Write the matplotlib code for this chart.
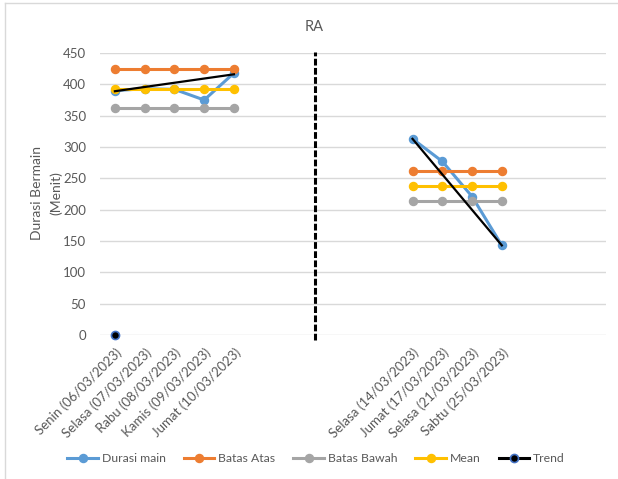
import matplotlib
matplotlib.use("Agg")
import matplotlib.pyplot as plt
from matplotlib.lines import Line2D
import numpy as np

plt.rcParams['font.family'] = ['Lato', 'DejaVu Sans']

# Category slots along the x axis (empty strings are blank slots)
categories = [
    "Senin (06/03/2023)", "Selasa (07/03/2023)", "Rabu (08/03/2023)",
    "Kamis (09/03/2023)", "Jumat (10/03/2023)",
    "", "", "", "", "",
    "Selasa (14/03/2023)", "Jumat (17/03/2023)", "Selasa (21/03/2023)",
    "Sabtu (25/03/2023)",
    "", "", "",
]

nan = np.nan
durasi_main = [390, 393, 392, 375, 418, nan, nan, nan, nan, nan,
               313, 277, 221, 143, nan, nan, nan]
batas_atas = [424, 424, 424, 424, 424, nan, nan, nan, nan, nan,
              262, 262, 262, 262, nan, nan, nan]
batas_bawah = [362, 362, 362, 362, 362, nan, nan, nan, nan, nan,
               214, 214, 214, 214, nan, nan, nan]
mean = [393, 393, 393, 393, 393, nan, nan, nan, nan, nan,
        238, 238, 238, 238, nan, nan, nan]
trend = [0, nan, nan, nan, nan, nan, nan, nan, nan, nan,
         nan, nan, nan, nan, nan, nan, nan]

# Trend segments for the two periods (start/end category index and value)
trend_left_idx = [0, 4]
trend_left_val = [389, 416]
trend_right_idx = [10, 13]
trend_right_val = [313, 143]

# Position of the dashed separator between the two periods
separator_pos = 6.73

yticks = [0, 50, 100, 150, 200, 250, 300, 350, 400, 450]
ylabel_lines = ["Durasi Bermain", "(Menit)"]

TEXT = "#595959"
GRID = "#D9D9D9"
C_BLUE = "#5B9BD5"
C_ORANGE = "#ED7D31"
C_GRAY = "#A5A5A5"
C_YELLOW = "#FFC000"

fig = plt.figure(figsize=(6.18, 4.79), dpi=100)
ax = fig.add_axes([100 / 618, 144 / 479, 506 / 618, 282 / 479])

x = np.arange(len(categories))
lw = 2.2
ms = 5.8

ax.plot(x, durasi_main, color=C_BLUE, lw=lw, marker='o', ms=ms, zorder=3)
ax.plot(x, batas_atas, color=C_ORANGE, lw=lw, marker='o', ms=ms, zorder=4)
ax.plot(x, batas_bawah, color=C_GRAY, lw=lw, marker='o', ms=ms, zorder=5)
ax.plot(x, mean, color=C_YELLOW, lw=lw, marker='o', ms=ms, zorder=6)
ax.plot(x, trend, color='black', lw=lw, marker='o', ms=ms,
        markerfacecolor='black', markeredgecolor='#4472C4', markeredgewidth=1.2,
        zorder=7, clip_on=False)
ax.plot(trend_left_idx, trend_left_val, color='black', lw=1.6, zorder=8)
ax.plot(trend_right_idx, trend_right_val, color='black', lw=1.6, zorder=8)

# dashed separator
ax.plot([separator_pos, separator_pos], [-8, 452], color='black', lw=2.2,
        ls=(0, (2.2, 0.8)), clip_on=False, zorder=9)

ax.set_xlim(-0.5, len(categories) - 0.5)
ax.set_ylim(0, 450)
ax.set_yticks(yticks)
ax.yaxis.grid(True, color=GRID, lw=1.0)
ax.set_axisbelow(True)
for s in ax.spines.values():
    s.set_visible(False)
ax.tick_params(axis='both', length=0, colors=TEXT, labelsize=9.5)
ax.tick_params(axis='y', pad=10)

ax.set_xticks(x)
ax.set_xticklabels(categories, rotation=45, ha='right', va='top',
                   rotation_mode='anchor', color=TEXT, fontsize=9.5)
ax.tick_params(axis='x', pad=8)

# axis title: two rotated lines, each centred on the same height
for line_x, line in zip([37, 56], ylabel_lines):
    fig.text(line_x / 618, 1 - 193 / 479, line, rotation=90,
             ha='center', va='center', color=TEXT, fontsize=10)

fig.text(314 / 618, 1 - 27 / 479, "RA", ha='center', va='center',
         color=TEXT, fontsize=10.5)

handles = [
    Line2D([], [], color=C_BLUE, lw=lw, marker='o', ms=ms),
    Line2D([], [], color=C_ORANGE, lw=lw, marker='o', ms=ms),
    Line2D([], [], color=C_GRAY, lw=lw, marker='o', ms=ms),
    Line2D([], [], color=C_YELLOW, lw=lw, marker='o', ms=ms),
    Line2D([], [], color='black', lw=lw, marker='o', ms=ms,
           markerfacecolor='black', markeredgecolor='#4472C4', markeredgewidth=1.2),
]
labels = ["Durasi main", "Batas Atas", "Batas Bawah", "Mean", "Trend"]
leg = fig.legend(handles, labels, loc='center', ncol=5,
                 bbox_to_anchor=(316 / 618, 1 - 459 / 479), frameon=False,
                 fontsize=8.8, handlelength=2.5, handletextpad=0.3,
                 columnspacing=1.5, labelcolor=TEXT)

# chart frame edges
fig.add_artist(Line2D([5 / 618, 5 / 618], [0, 1 - 3 / 479],
                      color="#D9D9D9", lw=1.0, transform=fig.transFigure))
fig.add_artist(Line2D([5 / 618, 1], [1 - 3 / 479, 1 - 3 / 479],
                      color="#D9D9D9", lw=1.0, transform=fig.transFigure))

fig.savefig("out.png", dpi=100)
